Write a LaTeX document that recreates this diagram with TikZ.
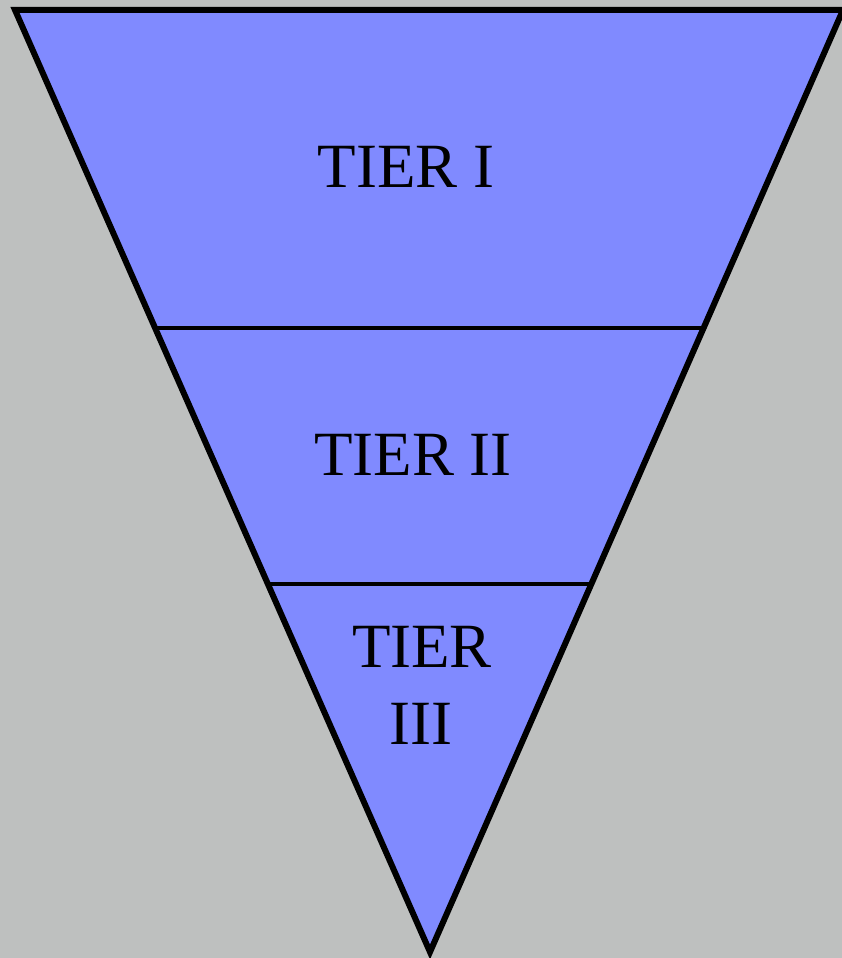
\documentclass[tikz,border=0pt]{standalone}
\usepackage{fontspec}
\setmainfont{Liberation Serif}
\definecolor{bgc}{RGB}{190,192,191}
\definecolor{tierfill}{RGB}{128,138,255}
\begin{document}
\begin{tikzpicture}[x=1pt,y=1pt,
  tierlabel/.style={font=\fontsize{63}{77}\selectfont, text=black, inner sep=0pt, align=center},
  outline/.style={draw=black, line width=6pt, line join=miter},
  divider/.style={draw=black, line width=3.5pt}]
\fill[bgc] (0,0) rectangle (842,958);
\useasboundingbox (0,0) rectangle (842,958);
\coordinate (tl) at (15,948);
\coordinate (tr) at (843,948);
\coordinate (bot) at (430,6);
\coordinate (d1l) at (155.1,630);
\coordinate (d1r) at (703,630);
\coordinate (d2l) at (268.7,374);
\coordinate (d2r) at (591,374);
\fill[tierfill] (tl) -- (tr) -- (bot) -- cycle;
\draw[divider] (d1l) -- (d1r);
\draw[divider] (d2l) -- (d2r);
\draw[outline] (tl) -- (tr) -- (bot) -- cycle;
\node[tierlabel, anchor=base] (t1) at (406,770) {TIER I};
\node[tierlabel, anchor=base] (t2) at (413,482) {TIER II};
\node[tierlabel, anchor=base] (t3a) at (422,290) {TIER};
\node[tierlabel, anchor=base] (t3b) at (421,213) {III};
\end{tikzpicture}
\end{document}
